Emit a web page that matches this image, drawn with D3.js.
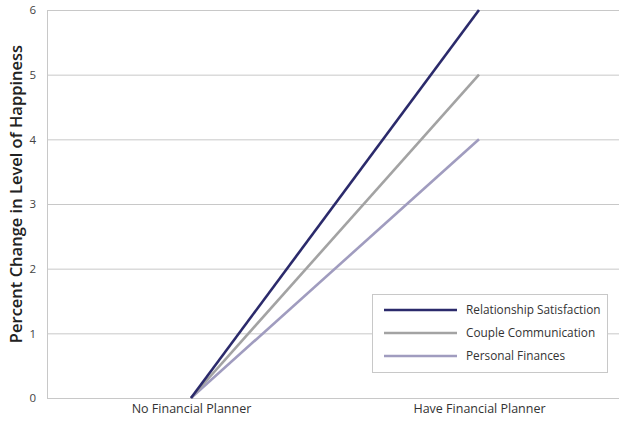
<!DOCTYPE html>
<html><head><meta charset="utf-8">
<script src="https://cdn.jsdelivr.net/npm/d3@7"></script>
<style>body{margin:0;background:#fff}svg{display:block;font-family:"Open Sans",sans-serif}</style>
</head><body><svg id="c" width="619" height="421"></svg>
<script>
const categories = ["No Financial Planner", "Have Financial Planner"];
const seriesNames = ["Relationship Satisfaction", "Couple Communication", "Personal Finances"];
const relationship = [0, 6];
const communication = [0, 5];
const finances = [0, 4];
const yTicks = [0, 1, 2, 3, 4, 5, 6];
const colors = ["#2b2a6b", "#a3a3a3", "#a09cbf"];
const series = [relationship, communication, finances];

(function () {
const FONT = "'Open Sans',sans-serif";
const svg = d3.select("#c");
const mLeft = 47, mRight = 623, mTop = 10, mBottom = 398;
const x = d3.scalePoint().domain(categories).range([mLeft, mRight]).padding(0.5);
const y = d3.scaleLinear().domain([0, 6]).range([mBottom, mTop]);

// gridlines
svg.append("g").selectAll("line").data(yTicks).join("line")
  .attr("x1", mLeft).attr("x2", 619).attr("y1", d => y(d) + 0.5).attr("y2", d => y(d) + 0.5)
  .attr("stroke", "#c8c8c8").attr("stroke-width", 1);
svg.append("line").attr("x1", mLeft + 0.5).attr("x2", mLeft + 0.5).attr("y1", mTop).attr("y2", mBottom + 1)
  .attr("stroke", "#c8c8c8");

// y tick labels
const yAxis = d3.axisLeft(y).tickValues(yTicks).tickSize(0).tickPadding(11).tickFormat(d3.format("d"));
const ga = svg.append("g").attr("transform", `translate(${mLeft},0)`).call(yAxis);
ga.select(".domain").remove();
ga.selectAll("text").attr("font-size", 11.5).attr("fill", "#444").attr("font-family", FONT);

// x labels
const xAxis = d3.axisBottom(x).tickSize(0).tickPadding(6);
const gx = svg.append("g").attr("transform", `translate(0,${mBottom})`).call(xAxis);
gx.select(".domain").remove();
gx.selectAll("text").attr("font-size", 12.5).attr("fill", "#333").attr("font-family", FONT);

// y title
svg.append("text").attr("transform", `translate(22,194) rotate(-90)`)
  .attr("text-anchor", "middle").attr("font-size", 16.5).attr("font-weight", 600).attr("fill", "#222")
  .attr("font-family", FONT)
  .text("Percent Change in Level of Happiness");

// lines
const line = d3.line().x((d, i) => x(categories[i])).y(d => y(d));
svg.append("g").selectAll("path").data(series.map((s, i) => ({ s, i })).reverse()).join("path")
  .attr("d", d => line(d.s)).attr("fill", "none").attr("stroke", d => colors[d.i]).attr("stroke-width", 2.6);

// legend
const lg = svg.append("g");
lg.append("rect").attr("x", 372.5).attr("y", 294.5).attr("width", 235).attr("height", 78)
  .attr("fill", "#fff").attr("stroke", "#c8c8c8");
const ly = d3.scalePoint().domain(seriesNames).range([310, 356]);
seriesNames.forEach((n, i) => {
  lg.append("line").attr("x1", 384).attr("x2", 457).attr("y1", ly(n)).attr("y2", ly(n))
    .attr("stroke", colors[i]).attr("stroke-width", 2.6);
  lg.append("text").attr("x", 466).attr("y", ly(n)).attr("dy", "0.35em").attr("font-size", 11.8)
    .attr("fill", "#333").attr("font-family", FONT).text(n);
});
})();
</script></body></html>
